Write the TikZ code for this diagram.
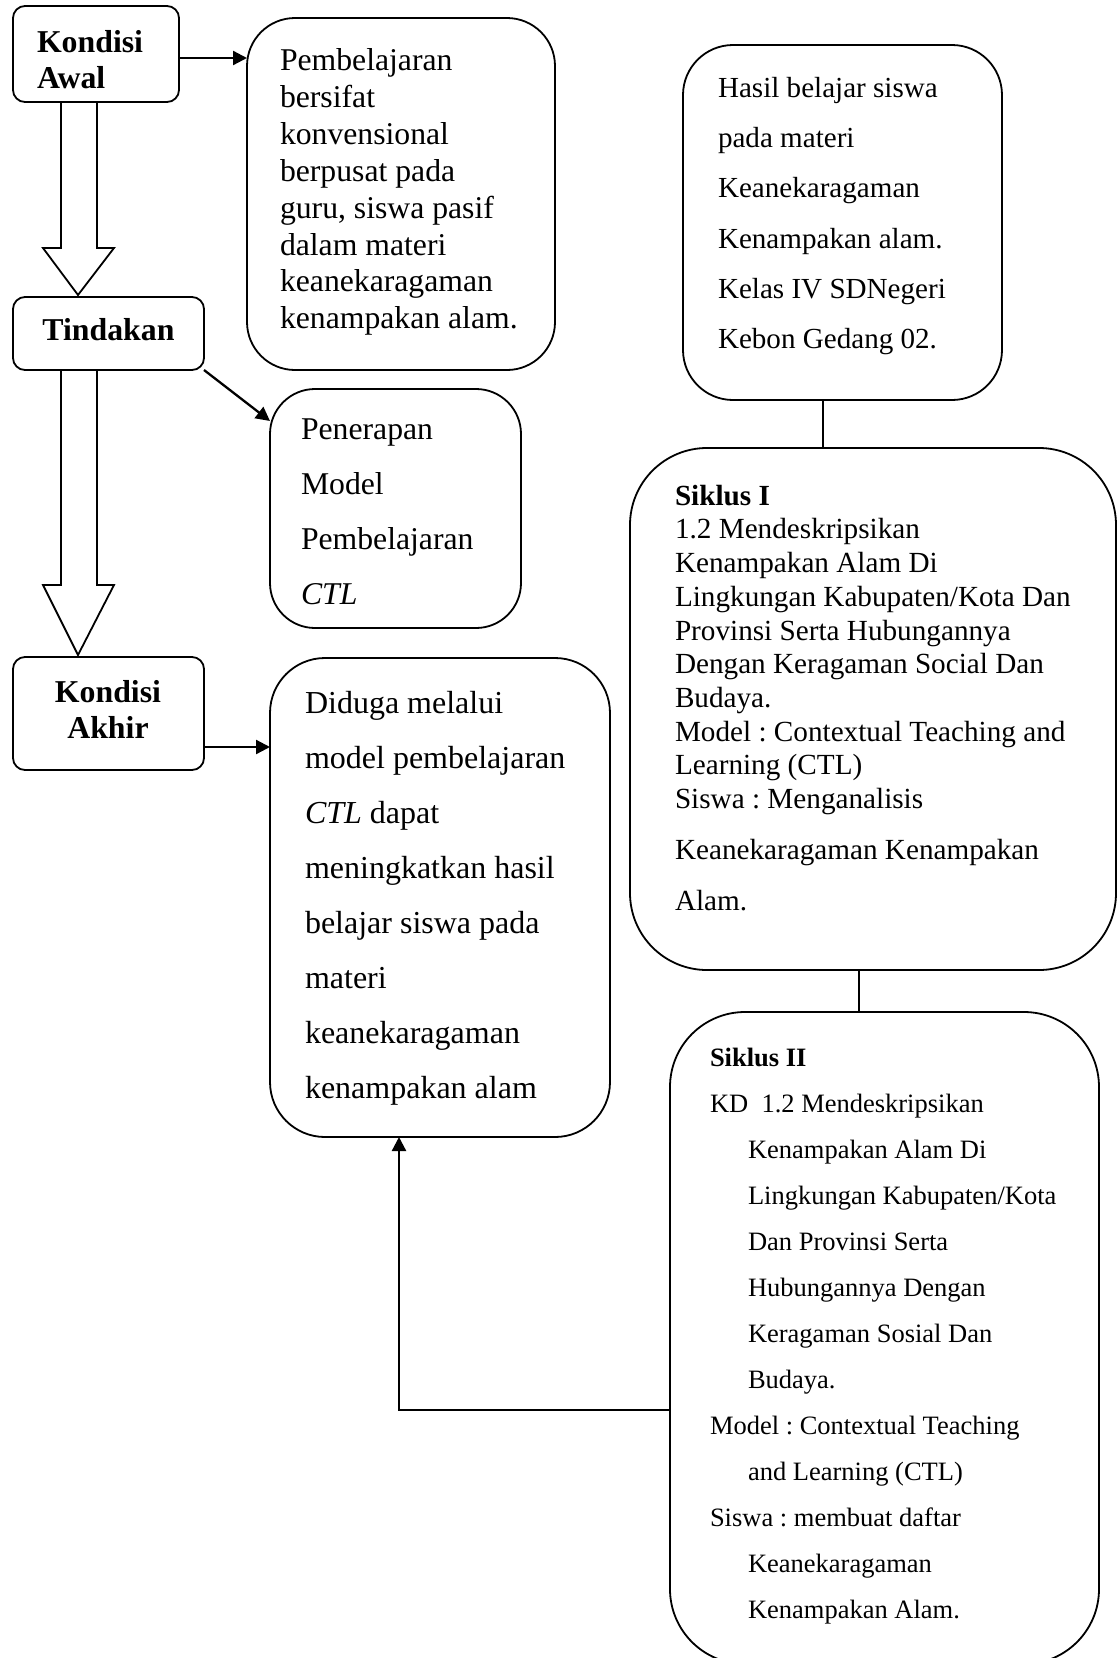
\documentclass[tikz,border=0pt]{standalone}
\usepackage{fontspec}
\setmainfont{Liberation Serif}
\usetikzlibrary{arrows.meta,calc}
\frenchspacing
\begin{document}
\begin{tikzpicture}[x=1pt,y=-1pt,
  box/.style={draw,line width=1.8pt,inner sep=0pt,outer sep=0pt},
  arr/.style={line width=2.3pt,-{Triangle[length=14pt,width=14pt]}},
  conn/.style={line width=1.6pt},
  hollow/.style={line width=1.8pt,line join=miter},
  txt/.style={inner sep=0pt,outer sep=0pt,anchor=north west,align=left},
  fA/.style={font=\fontsize{31.7pt}{36.9pt}\selectfont\frenchspacing},
]
\useasboundingbox (0,0) rectangle (1118,1658);

% left column boxes
\node[box,rounded corners=12pt,minimum width=166pt,minimum height=96pt] (ka) at (96,54) {};
\node[box,rounded corners=12pt,minimum width=191pt,minimum height=73pt] (tind) at (108.5,333.5) {};
\node[box,rounded corners=12pt,minimum width=191pt,minimum height=113pt] (kak) at (108.5,713.5) {};

\node[txt,font=\fontsize{31.8pt}{36.6pt}\selectfont\bfseries] (kat) at (37,30) {Kondisi\\Awal};
\node[inner sep=0pt,anchor=base,font=\fontsize{31.8pt}{36.6pt}\selectfont\bfseries] (tindt) at (108.5,340) {Tindakan};
\node[inner sep=0pt,anchor=north,align=center,font=\fontsize{31.8pt}{36.6pt}\selectfont\bfseries] (kakt) at (108,680) {Kondisi\\Akhir};

% middle column boxes
\node[box,rounded corners=48pt,minimum width=308pt,minimum height=352pt] (bp) at (401,194) {};
\node[box,rounded corners=45pt,minimum width=251pt,minimum height=239pt] (pen) at (395.5,508.5) {};
\node[box,rounded corners=55pt,minimum width=340pt,minimum height=479pt] (dug) at (440,897.5) {};

\node[txt,fA] (bpt) at (280,48.5) {Pembelajaran\\bersifat\\konvensional\\berpusat pada\\guru, siswa pasif\\dalam materi\\keanekaragaman\\kenampakan alam.};
\node[txt,font=\fontsize{31.7pt}{55pt}\selectfont\frenchspacing] (pent) at (301,418.5) {Penerapan\\Model\\Pembelajaran\\\textit{CTL}};
\node[txt,font=\fontsize{32pt}{55.1pt}\selectfont\frenchspacing] (dugt) at (305,691) {Diduga melalui\\model pembelajaran\\\textit{CTL} dapat\\meningkatkan hasil\\belajar siswa pada\\materi\\keanekaragaman\\kenampakan alam};

% right column boxes
\node[box,rounded corners=50pt,minimum width=319pt,minimum height=355pt] (has) at (842.5,222.5) {};
\node[box,rounded corners=77pt,minimum width=486pt,minimum height=522pt] (s1) at (873,709) {};
\node[box,rounded corners=75pt,minimum width=429pt,minimum height=652pt] (s2) at (884.5,1338) {};

\node[txt,font=\fontsize{29.1pt}{50.3pt}\selectfont\frenchspacing] (hast) at (718,77) {Hasil belajar siswa\\pada materi\\Keanekaragaman\\Kenampakan alam.\\Kelas IV SDNegeri\\Kebon Gedang 02.};
\node[txt,font=\fontsize{29.2pt}{33.7pt}\selectfont\frenchspacing] (s1t) at (675,485) {\textbf{Siklus I}\\1.2 Mendeskripsikan\\Kenampakan Alam Di\\Lingkungan Kabupaten/Kota Dan\\Provinsi Serta Hubungannya\\Dengan Keragaman Social Dan\\Budaya.\\Model : Contextual Teaching and\\Learning (CTL)\\Siswa : Menganalisis\\[17.5pt]Keanekaragaman Kenampakan\\[17.5pt]Alam.};
\node[txt,font=\fontsize{26.5pt}{46pt}\selectfont\frenchspacing] (s2t) at (710,1048) {\textbf{Siklus II}\\KD\ \ 1.2 Mendeskripsikan\\\hspace*{38pt}Kenampakan Alam Di\\\hspace*{38pt}Lingkungan Kabupaten/Kota\\\hspace*{38pt}Dan Provinsi Serta\\\hspace*{38pt}Hubungannya Dengan\\\hspace*{38pt}Keragaman Sosial Dan\\\hspace*{38pt}Budaya.\\Model : Contextual Teaching\\\hspace*{38pt}and Learning (CTL)\\Siswa : membuat daftar\\\hspace*{38pt}Keanekaragaman\\\hspace*{38pt}Kenampakan Alam.};

% hollow block arrows
\draw[hollow] ($(ka.south west)+(48,0)$) -- ($(ka.south west)+(48,146)$) -- ($(ka.south west)+(30,146)$)
  -- ($(ka.south west)+(65,193)$) -- ($(ka.south west)+(101,146)$) -- ($(ka.south west)+(84,146)$) -- ($(ka.south west)+(84,0)$);
\draw[hollow] ($(tind.south west)+(48,0)$) -- ($(tind.south west)+(48,215)$) -- ($(tind.south west)+(30,215)$)
  -- ($(tind.south west)+(65,285)$) -- ($(tind.south west)+(101,215)$) -- ($(tind.south west)+(84,215)$) -- ($(tind.south west)+(84,0)$);

% arrows
\draw[arr] ($(ka.east)+(0,4)$) -- ($(ka.east -| bp.west)+(0,4)$);
\coordinate (pentip) at ($(pen.north west)+(0,32)$);
\draw[arr] (tind.south east) -- (pentip);
\draw[arr] ($(kak.east)+(0,33.5)$) -- ($(kak.east -| dug.west)+(0,33.5)$);

% right connectors
\coordinate (h1) at ($(has.south)+(-19.5,0)$);
\draw[conn] (h1) -- (h1 |- s1.north);
\coordinate (h2) at ($(s1.south)+(-14,0)$);
\draw[conn] (h2) -- (h2 |- s2.north);
\coordinate (a1) at ($(s2.west)+(0,72)$);
\coordinate (a2) at ($(dug.south)+(-41,0)$);
\draw[arr] (a1) -| (a2);
\end{tikzpicture}
\end{document}
